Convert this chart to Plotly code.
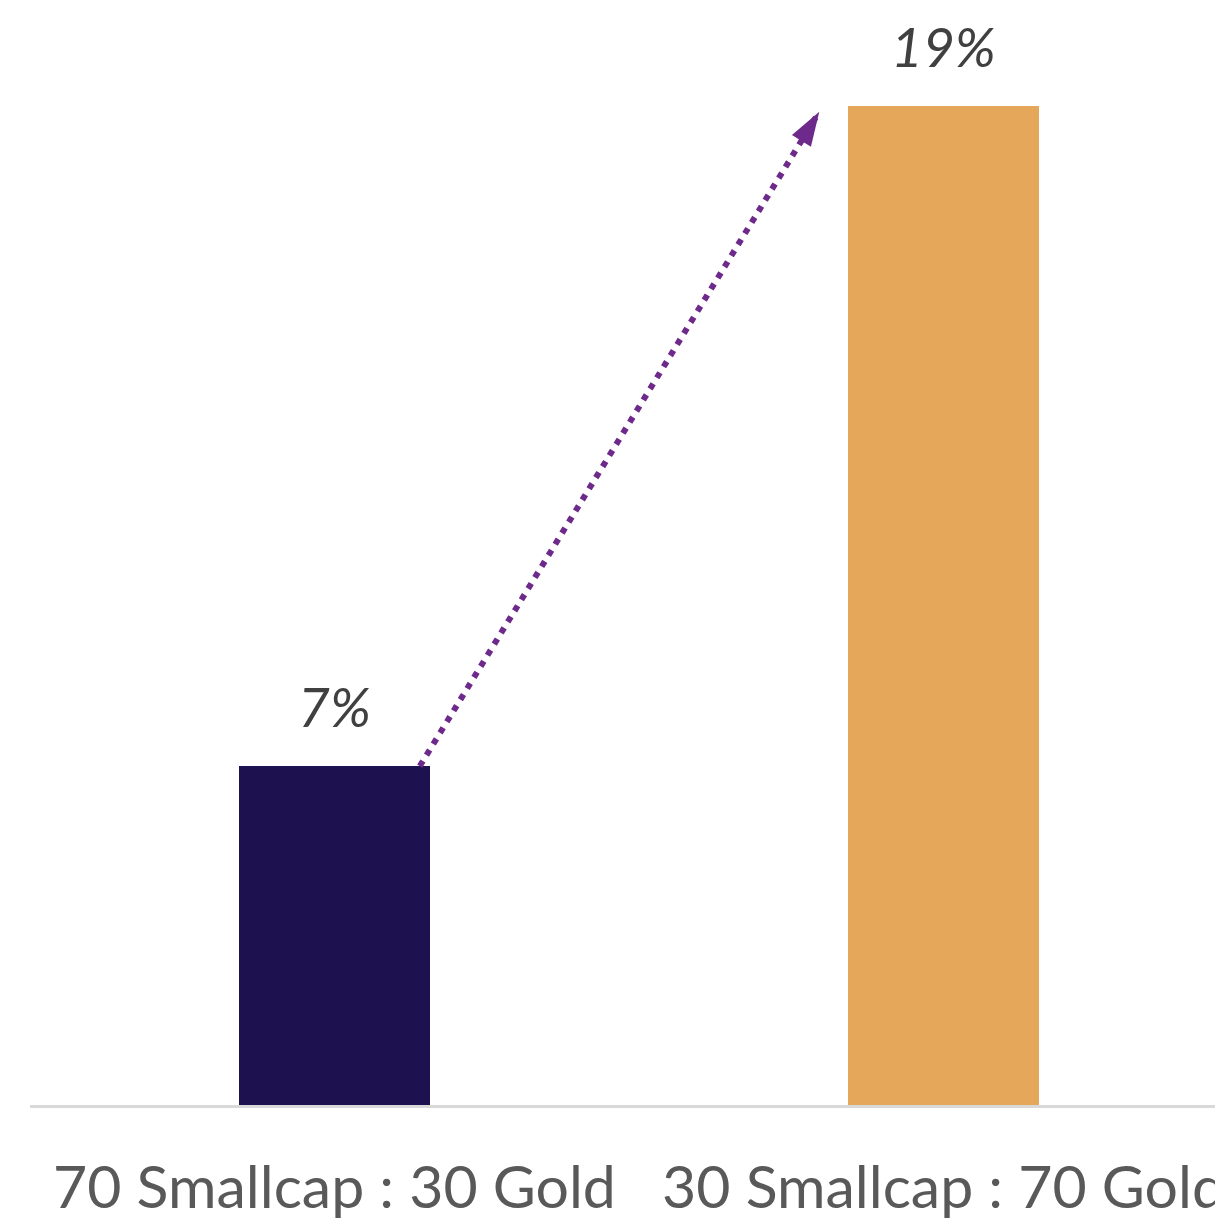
import plotly.graph_objects as go

# Portfolio mixes and their returns (%)
categories = ["70 Smallcap : 30 Gold", "30 Smallcap : 70 Gold"]
returns = [7, 19]
bar_colors = ["#1e1150", "#e5a85a"]

# Dotted arrow path between the two bars (category position, value)
arrow_x = [0.14, 0.796]
arrow_y = [7, 18.9]

fig = go.Figure()

fig.add_trace(go.Bar(
    x=[0, 1],
    y=returns,
    width=0.315,
    marker=dict(color=bar_colors, line=dict(width=0)),
    hoverinfo="skip",
))

fig.add_trace(go.Scatter(
    x=arrow_x,
    y=arrow_y,
    mode="lines",
    line=dict(color="#6e2a8a", width=6, dash="6px,7px"),
    hoverinfo="skip",
))
fig.add_trace(go.Scatter(
    x=arrow_x,
    y=arrow_y,
    mode="markers",
    marker=dict(symbol="arrow", size=[0, 36], angleref="previous",
                color="#6e2a8a", opacity=1, line=dict(width=0)),
    hoverinfo="skip",
    cliponaxis=False,
))

for i, v in enumerate(returns):
    fig.add_annotation(
        x=i, y=v, xref="x", yref="y",
        text=f"{v}%", showarrow=False,
        yanchor="bottom", yshift=25,
        font=dict(family="Lato", size=55, color="#404040", style="italic"),
    )

fig.update_layout(
    width=1215, height=1220,
    margin=dict(l=30, r=0, t=0, b=115),
    paper_bgcolor="white", plot_bgcolor="white",
    showlegend=False,
    bargap=0,
    xaxis=dict(
        range=[-0.5, 1.4458],
        tickmode="array", tickvals=[0, 1], ticktext=categories,
        showgrid=False, zeroline=False,
        showline=True, linecolor="#d9d9d9", linewidth=3,
        ticks="", ticklabelstandoff=29, automargin=False,
        ticklabeloverflow="allow",
        tickfont=dict(family="Lato", size=59, color="#595959"),
    ),
    yaxis=dict(
        range=[0.84, 20.93],
        visible=False, showgrid=False, zeroline=False,
    ),
)

fig.write_html("out.html")
